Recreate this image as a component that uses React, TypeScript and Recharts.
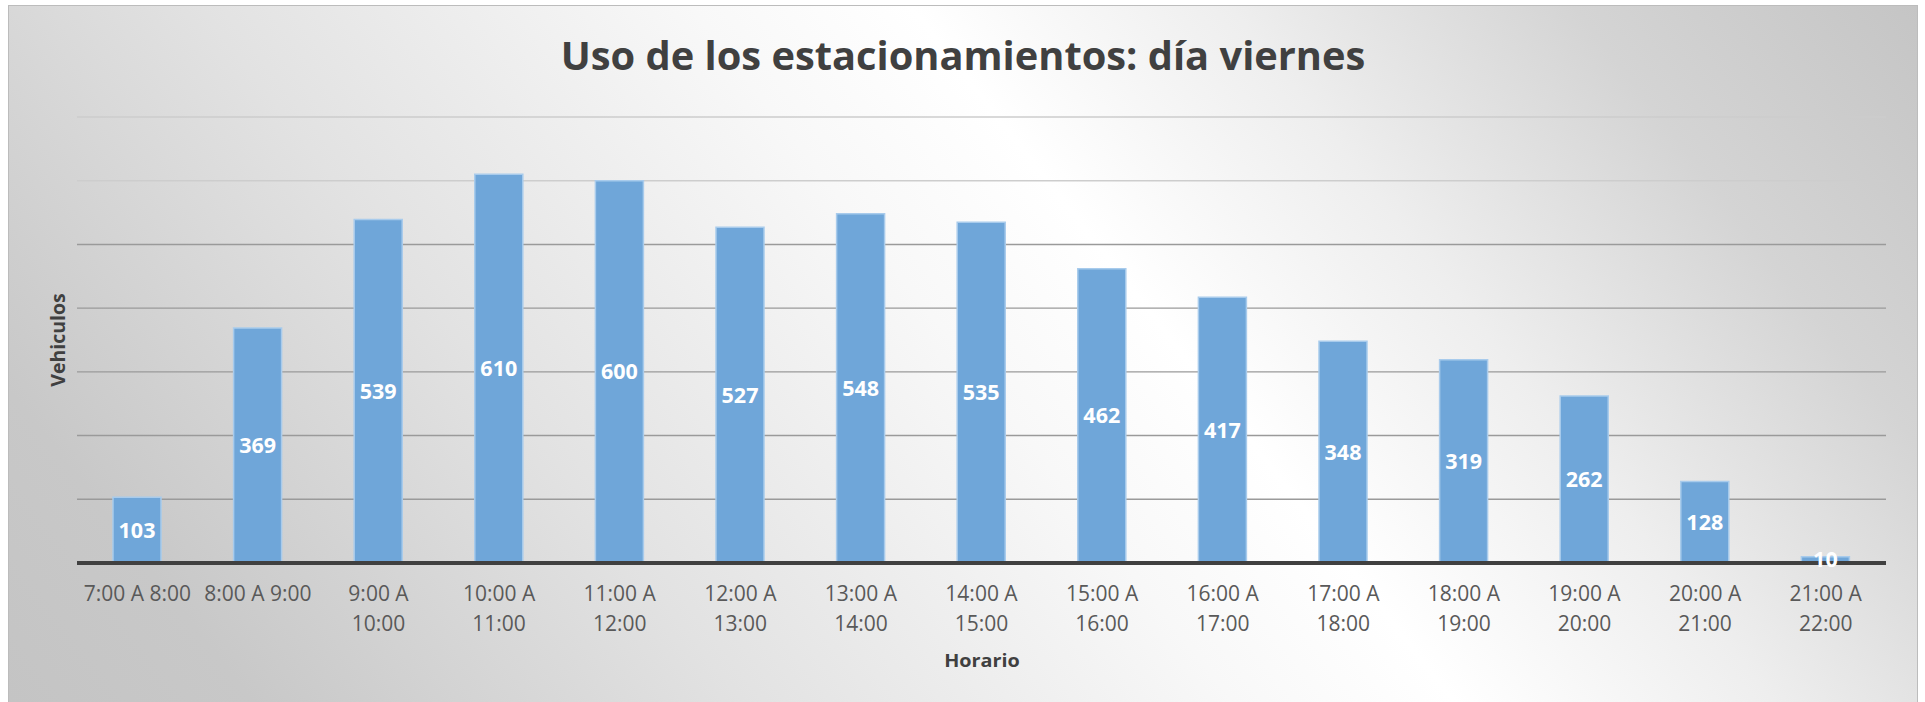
import React from 'react';
import { BarChart, Bar, XAxis, YAxis, CartesianGrid, LabelList } from 'recharts';

const categories = [
  '7:00 A 8:00', '8:00 A 9:00', '9:00 A 10:00', '10:00 A 11:00', '11:00 A 12:00',
  '12:00 A 13:00', '13:00 A 14:00', '14:00 A 15:00', '15:00 A 16:00', '16:00 A 17:00',
  '17:00 A 18:00', '18:00 A 19:00', '19:00 A 20:00', '20:00 A 21:00', '21:00 A 22:00',
];
const vehiculos = [103, 369, 539, 610, 600, 527, 548, 535, 462, 417, 348, 319, 262, 128, 10];
const yTicks = [0, 100, 200, 300, 400, 500, 600, 700];
const chartTitle = 'Uso de los estacionamientos: día viernes';
const xTitle = 'Horario';
const yTitle = 'Vehiculos';

const data = categories.map((c, i) => ({ cat: c, v: vehiculos[i] }));

const W = 1925;
const H = 702;
const FONT = '"Open Sans", "Noto Sans", sans-serif';

const Tick = (props: any) => {
  const { x, y, payload } = props;
  const s: string = String(payload.value);
  const k = s.lastIndexOf(' ');
  const lines = s.length > 11 ? [s.slice(0, k), s.slice(k + 1)] : [s];
  return (
    <text x={x} y={y} textAnchor="middle" fill="#595959" fontSize={21} fontFamily={FONT}>
      {lines.map((l, i) => (
        <tspan key={i} x={x} y={y + 38 + i * 30}>{l}</tspan>
      ))}
    </text>
  );
};

const gridLine = (p: any) => (
  <line
    key={p.key}
    x1={p.x1}
    y1={p.y1}
    x2={p.x2}
    y2={p.y2}
    stroke={p.index >= 6 ? '#cdcdcd' : '#9a9a9a'}
    strokeWidth={1.4}
  />
);

export default function App() {
  return (
    <div style={{ position: 'absolute', left: 0, top: 0, width: W, height: H, overflow: 'hidden', background: '#ffffff' }}>
      <div
        style={{
          position: 'absolute',
          left: 8,
          top: 5,
          width: 1910,
          height: 700,
          boxSizing: 'border-box',
          border: '1px solid #bcbcbc',
          background:
            'linear-gradient(52deg, #c4c4c4 0%, #c8c8c8 10%, #e2e2e2 30%, #f8f8f8 50%, #ffffff 59%, #eeeeee 72%, #d4d4d4 86%, #c5c5c5 100%)',
        }}
      />
      <div style={{ position: 'absolute', left: 0, top: 0, width: W, height: H }}>
        <BarChart
          width={W}
          height={H}
          data={data}
          margin={{ top: 117, left: 77, right: 39, bottom: 59 }}
        >
          <CartesianGrid vertical={false} horizontal={gridLine} />
          <YAxis hide domain={[0, 700]} ticks={yTicks} type="number" />
          <XAxis
            dataKey="cat"
            height={80}
            interval={0}
            tickLine={false}
            tickSize={0}
            tickMargin={0}
            axisLine={{ stroke: '#404040', strokeWidth: 4 }}
            tick={<Tick />}
          />
          <Bar dataKey="v" fill="#6fa6d9" stroke="#a8cbec" strokeWidth={1.5} barSize={48} isAnimationActive={false}>
            <LabelList
              dataKey="v"
              position="center"
              fill="#ffffff"
              fontSize={21.5}
              fontWeight={700}
              fontFamily={FONT}
            />
          </Bar>
        </BarChart>
        <svg
          width={W}
          height={H}
          style={{ position: 'absolute', left: 0, top: 0, pointerEvents: 'none' }}
        >
          <text x={963} y={70} textAnchor="middle" fontSize={39.8} fontWeight={700} fill="#404040" fontFamily={FONT}>
            {chartTitle}
          </text>
          <text
            transform="translate(982, 667) scale(1.1, 1)"
            x={0}
            y={0}
            textAnchor="middle"
            fontSize={18}
            fontWeight={700}
            fill="#404040"
            fontFamily={FONT}
          >
            {xTitle}
          </text>
          <text
            transform="translate(65, 340) rotate(-90)"
            x={0}
            y={0}
            textAnchor="middle"
            fontSize={19.5}
            fontWeight={700}
            fill="#404040"
            fontFamily={FONT}
          >
            {yTitle}
          </text>
        </svg>
      </div>
    </div>
  );
}
